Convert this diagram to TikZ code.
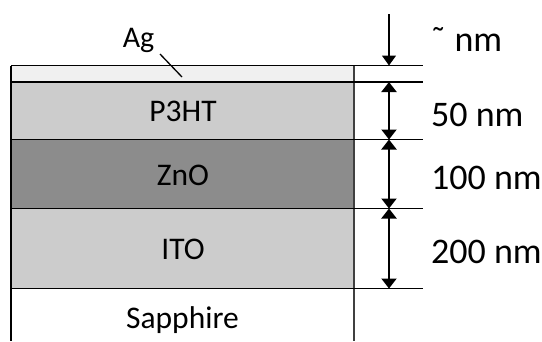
\documentclass[tikz,border=0pt]{standalone}
\usepackage{fontspec}
\setmainfont{Carlito}
\usetikzlibrary{arrows.meta}
\definecolor{agcol}{HTML}{F0F0F0}
\definecolor{lightlayer}{HTML}{CCCCCC}
\definecolor{darklayer}{HTML}{8C8C8C}
\definecolor{edgegray}{HTML}{404040}
\begin{document}
\begin{tikzpicture}[x=1pt,y=-1pt,
  layer/.style={anchor=north west, inner sep=0pt, minimum width=343pt, draw=none},
  laytext/.style={font=\fontsize{31.5}{31.5}\selectfont, inner sep=0pt},
  dimtext/.style={font=\fontsize{36}{36}\selectfont, inner sep=0pt, anchor=west},
  hline/.style={line width=1.4pt},
  dimarrow/.style={line width=2pt, {Triangle[length=10pt,width=15pt]}-{Triangle[length=10pt,width=15pt]}},
  toparrow/.style={line width=1.2pt, -{Triangle[length=10pt,width=14pt]}}
]
\useasboundingbox (0,0) rectangle (542,341);
% layers
\node[layer, fill=agcol, minimum height=16.5pt] (ag) at (11,65.5) {};
\node[layer, fill=lightlayer, minimum height=57.5pt] (p3ht) at (11,82) {};
\node[layer, fill=darklayer, minimum height=69pt] (zno) at (11,139.5) {};
\node[layer, fill=lightlayer, minimum height=80pt] (ito) at (11,208.5) {};
\node[layer, fill=white, minimum height=53pt] (sapph) at (11,288.5) {};
% side lines
\coordinate (lt) at (11,65.5);
\coordinate (lb) at (11,341);
\coordinate (rt) at (354,65.5);
\coordinate (rb) at (354,341);
\draw[line width=1.3pt] (lt) -- (lb);
\draw[line width=1.1pt, draw=edgegray] (rt) -- (rb);
% horizontal lines extended
\coordinate (e0) at (423,65.5);
\coordinate (e1) at (423,82);
\coordinate (e2) at (423,139.5);
\coordinate (e3) at (423,208.5);
\coordinate (e4) at (423,288.5);
\draw[hline] (ag.north west) -- (e0);
\draw[hline] (p3ht.north west) -- (e1);
\draw[hline] (zno.north west) -- (e2);
\draw[hline] (ito.north west) -- (e3);
\draw[hline] (sapph.north west) -- (e4);
% labels
\node[laytext] (lp3ht) at (183,111.7) {P3HT};
\node[laytext] (lzno) at (183,175.5) {ZnO};
\node[laytext] (lito) at (183,249.5) {ITO};
\node[laytext] (lsap) at (182.5,320) {Sapphire};
\node[font=\fontsize{30}{30}\selectfont, inner sep=0pt] (lag) at (138.5,40.5) {Ag};
\coordinate (agl1) at (160,54);
\coordinate (agl2) at (182,77);
\draw[line width=1.3pt] (agl1) -- (agl2);
% dimension arrows
\coordinate (a0) at (389,14);
\coordinate (a1) at (389,65.5);
\coordinate (a2) at (389,82);
\coordinate (a3) at (389,139.5);
\coordinate (a4) at (389,208.5);
\coordinate (a5) at (389,288.5);
\draw[toparrow] (a0) -- (a1);
\draw[dimarrow] (a2) -- (a3);
\draw[dimarrow] (a3) -- (a4);
\draw[dimarrow] (a4) -- (a5);
\node[dimtext, anchor=base west] (d0) at (430,51.7) {\char"02DC{} nm};
\node[dimtext] (d1) at (431,114.5) {50 nm};
\node[dimtext] (d2) at (431,178.3) {100 nm};
\node[dimtext] (d3) at (431,251.5) {200 nm};
\end{tikzpicture}
\end{document}
